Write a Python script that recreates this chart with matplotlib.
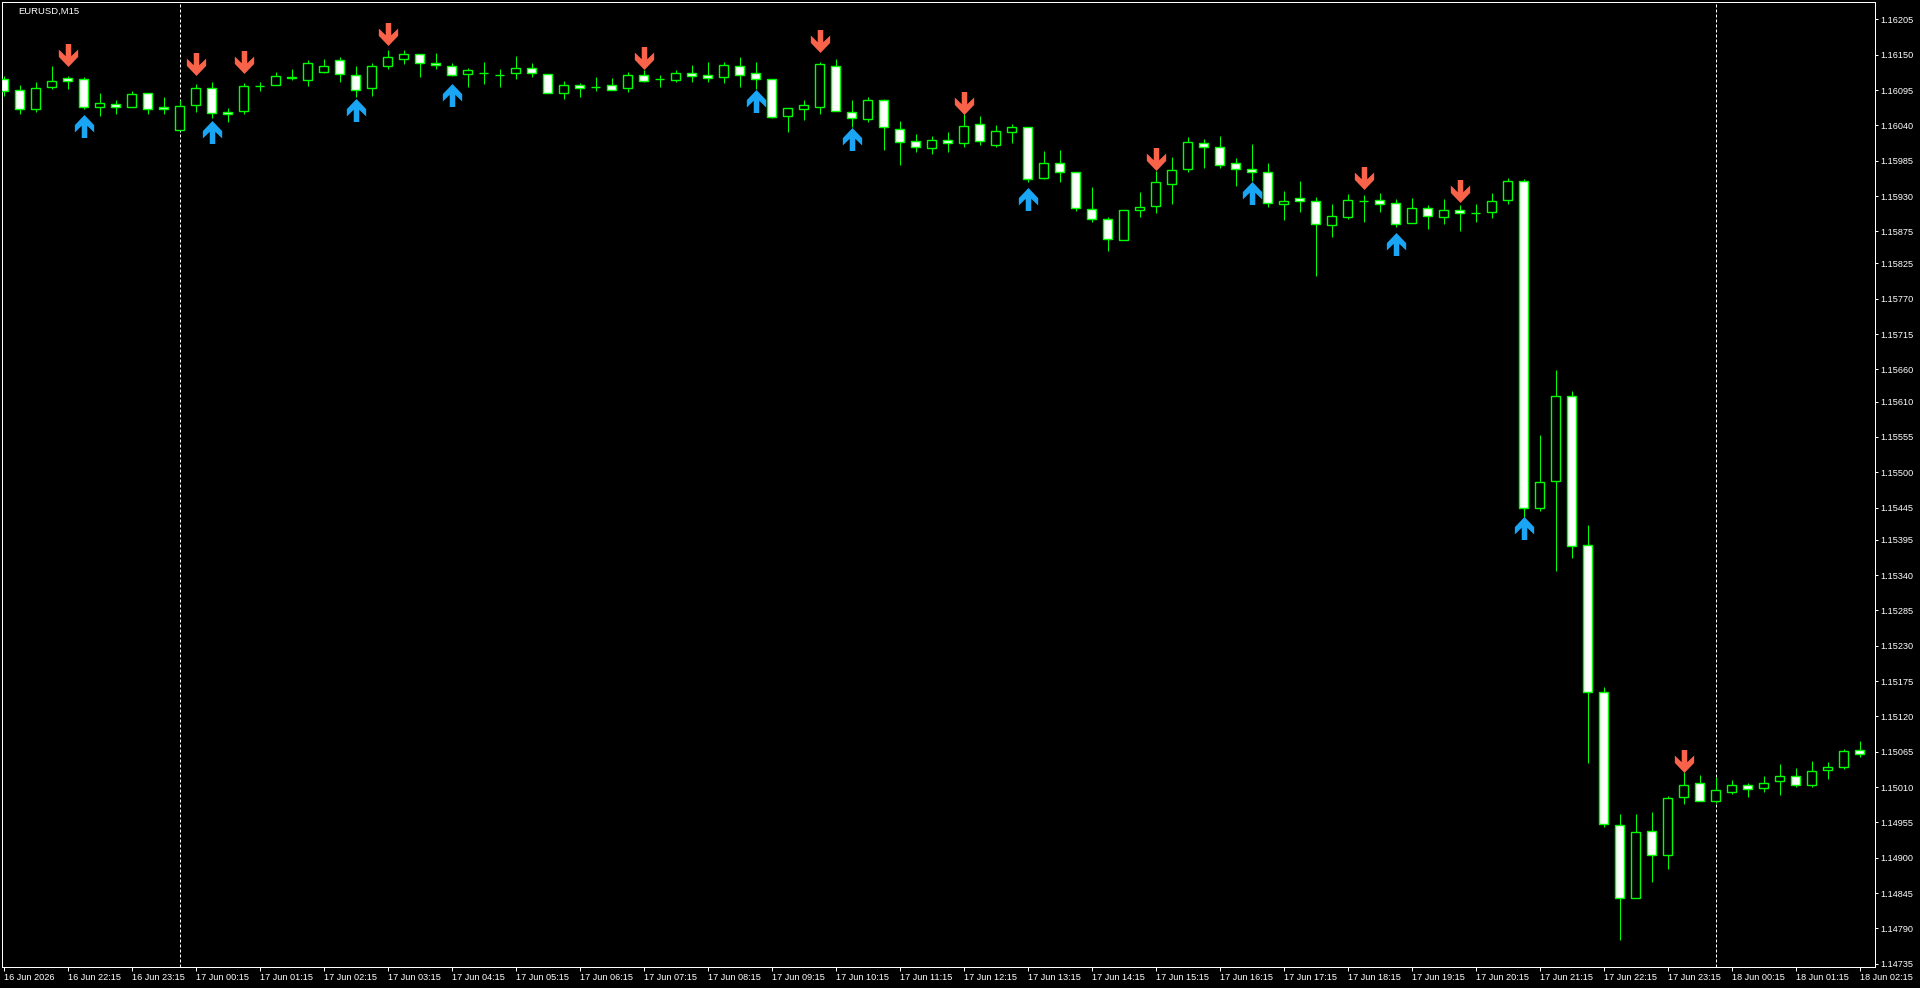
import numpy as np
import pandas as pd
import matplotlib
matplotlib.use("Agg")
import matplotlib.pyplot as plt
from matplotlib.path import Path
from matplotlib.transforms import offset_copy

# EURUSD M15 bars, 16 Jun 21:15 -> 18 Jun 02:15
bar_times = pd.date_range("2026-06-16 21:15", periods=117, freq="15min")

opens = [
    1.16112, 1.16095, 1.16066, 1.16099, 1.16114, 1.16112, 1.16068, 1.16073, 1.16069, 1.16090,
    1.16068, 1.16032, 1.16071, 1.16098, 1.16061, 1.16062, 1.16101, 1.16103, 1.16114, 1.16110,
    1.16123, 1.16142, 1.16118, 1.16098, 1.16132, 1.16143, 1.16151, 1.16137, 1.16132, 1.16120,
    1.16122, 1.16118, 1.16121, 1.16129, 1.16120, 1.16090, 1.16103, 1.16100, 1.16103, 1.16098,
    1.16118, 1.16112, 1.16110, 1.16121, 1.16118, 1.16115, 1.16132, 1.16121, 1.16112, 1.16054,
    1.16066, 1.16069, 1.16132, 1.16061, 1.16050, 1.16080, 1.16034, 1.16015, 1.16004, 1.16017,
    1.16012, 1.16042, 1.16009, 1.16029, 1.16037, 1.15958, 1.15981, 1.15967, 1.15910, 1.15894,
    1.15861, 1.15908, 1.15914, 1.15949, 1.15972, 1.16012, 1.16006, 1.15981, 1.15972, 1.15967,
    1.15917, 1.15927, 1.15922, 1.15885, 1.15897, 1.15922, 1.15924, 1.15919, 1.15888, 1.15911,
    1.15897, 1.15908, 1.15903, 1.15905, 1.15924, 1.15953, 1.15445, 1.15486, 1.15619, 1.15387,
    1.15158, 1.14951, 1.14838, 1.14941, 1.14905, 1.14994, 1.15016, 1.14988, 1.15002, 1.15013,
    1.15008, 1.15019, 1.15027, 1.15013, 1.15036, 1.15042, 1.15067,
]
highs = [
    1.16117, 1.16103, 1.16108, 1.16133, 1.16117, 1.16115, 1.16090, 1.16080, 1.16094, 1.16090,
    1.16084, 1.16080, 1.16105, 1.16108, 1.16067, 1.16106, 1.16107, 1.16123, 1.16127, 1.16142,
    1.16144, 1.16146, 1.16132, 1.16137, 1.16157, 1.16158, 1.16151, 1.16153, 1.16137, 1.16129,
    1.16139, 1.16128, 1.16148, 1.16137, 1.16120, 1.16109, 1.16106, 1.16115, 1.16114, 1.16123,
    1.16126, 1.16118, 1.16126, 1.16134, 1.16139, 1.16139, 1.16147, 1.16139, 1.16112, 1.16067,
    1.16080, 1.16139, 1.16144, 1.16080, 1.16084, 1.16081, 1.16047, 1.16026, 1.16023, 1.16029,
    1.16059, 1.16055, 1.16041, 1.16042, 1.16037, 1.16000, 1.16002, 1.15967, 1.15944, 1.15897,
    1.15908, 1.15936, 1.15969, 1.15991, 1.16022, 1.16019, 1.16023, 1.15989, 1.16011, 1.15981,
    1.15938, 1.15953, 1.15928, 1.15917, 1.15933, 1.15931, 1.15935, 1.15925, 1.15927, 1.15916,
    1.15925, 1.15916, 1.15918, 1.15934, 1.15958, 1.15956, 1.15558, 1.15659, 1.15627, 1.15418,
    1.15166, 1.14968, 1.14968, 1.14971, 1.14996, 1.15033, 1.15029, 1.15026, 1.15021, 1.15017,
    1.15027, 1.15046, 1.15040, 1.15051, 1.15049, 1.15070, 1.15082,
]
lows = [
    1.16086, 1.16058, 1.16061, 1.16096, 1.16097, 1.16066, 1.16054, 1.16058, 1.16068, 1.16058,
    1.16058, 1.16032, 1.16061, 1.16051, 1.16045, 1.16058, 1.16094, 1.16103, 1.16111, 1.16102,
    1.16121, 1.16107, 1.16084, 1.16085, 1.16127, 1.16135, 1.16115, 1.16128, 1.16117, 1.16099,
    1.16105, 1.16100, 1.16112, 1.16115, 1.16090, 1.16081, 1.16084, 1.16094, 1.16095, 1.16092,
    1.16107, 1.16099, 1.16108, 1.16108, 1.16107, 1.16106, 1.16100, 1.16096, 1.16051, 1.16030,
    1.16048, 1.16057, 1.16062, 1.16038, 1.16045, 1.16001, 1.15979, 1.15999, 1.15995, 1.15999,
    1.16006, 1.16009, 1.16006, 1.16012, 1.15952, 1.15956, 1.15952, 1.15906, 1.15889, 1.15845,
    1.15861, 1.15897, 1.15903, 1.15917, 1.15967, 1.15974, 1.15974, 1.15945, 1.15954, 1.15913,
    1.15893, 1.15905, 1.15805, 1.15866, 1.15894, 1.15889, 1.15905, 1.15882, 1.15888, 1.15879,
    1.15886, 1.15875, 1.15890, 1.15896, 1.15918, 1.15431, 1.15439, 1.15347, 1.15366, 1.15048,
    1.14948, 1.14772, 1.14838, 1.14863, 1.14883, 1.14984, 1.14989, 1.14985, 1.15000, 1.14994,
    1.15002, 1.14998, 1.15010, 1.15010, 1.15022, 1.15038, 1.15057,
]
closes = [
    1.16093, 1.16065, 1.16098, 1.16109, 1.16109, 1.16069, 1.16075, 1.16068, 1.16089, 1.16066,
    1.16065, 1.16070, 1.16098, 1.16060, 1.16057, 1.16101, 1.16101, 1.16117, 1.16116, 1.16137,
    1.16132, 1.16120, 1.16095, 1.16132, 1.16146, 1.16151, 1.16137, 1.16134, 1.16118, 1.16126,
    1.16122, 1.16118, 1.16129, 1.16121, 1.16090, 1.16103, 1.16098, 1.16100, 1.16095, 1.16118,
    1.16109, 1.16112, 1.16121, 1.16117, 1.16114, 1.16134, 1.16118, 1.16112, 1.16053, 1.16067,
    1.16072, 1.16135, 1.16062, 1.16051, 1.16080, 1.16038, 1.16014, 1.16006, 1.16017, 1.16012,
    1.16039, 1.16015, 1.16031, 1.16037, 1.15956, 1.15981, 1.15967, 1.15911, 1.15894, 1.15863,
    1.15908, 1.15913, 1.15952, 1.15970, 1.16014, 1.16006, 1.15978, 1.15972, 1.15967, 1.15919,
    1.15922, 1.15922, 1.15886, 1.15899, 1.15924, 1.15922, 1.15917, 1.15886, 1.15911, 1.15899,
    1.15908, 1.15903, 1.15903, 1.15922, 1.15953, 1.15444, 1.15485, 1.15619, 1.15385, 1.15158,
    1.14952, 1.14837, 1.14940, 1.14905, 1.14993, 1.15014, 1.14989, 1.15005, 1.15013, 1.15007,
    1.15016, 1.15027, 1.15014, 1.15035, 1.15041, 1.15066, 1.15061,
]

# signal arrows: bar index and price of the arrow tip
sell_bars = [4, 12, 15, 24, 40, 51, 60, 72, 85, 91, 105]
sell_prices = [1.16132, 1.16117, 1.16120, 1.16164, 1.16127, 1.16153, 1.16057, 1.15969, 1.15940, 1.15920, 1.15033]
buy_bars = [5, 13, 22, 28, 47, 53, 64, 78, 87, 95]
buy_prices = [1.16057, 1.16048, 1.16082, 1.16105, 1.16096, 1.16037, 1.15943, 1.15953, 1.15873, 1.15431]

price_labels = [
    "1.16205", "1.16150", "1.16095", "1.16040", "1.15985", "1.15930", "1.15875",
    "1.15825", "1.15770", "1.15715", "1.15660", "1.15610", "1.15555", "1.15500",
    "1.15445", "1.15395", "1.15340", "1.15285", "1.15230", "1.15175", "1.15120",
    "1.15065", "1.15010", "1.14955", "1.14900", "1.14845", "1.14790", "1.14735",
]
time_labels = [
    "16 Jun 2026", "16 Jun 22:15", "16 Jun 23:15", "17 Jun 00:15", "17 Jun 01:15",
    "17 Jun 02:15", "17 Jun 03:15", "17 Jun 04:15", "17 Jun 05:15", "17 Jun 06:15",
    "17 Jun 07:15", "17 Jun 08:15", "17 Jun 09:15", "17 Jun 10:15", "17 Jun 11:15",
    "17 Jun 12:15", "17 Jun 13:15", "17 Jun 14:15", "17 Jun 15:15", "17 Jun 16:15",
    "17 Jun 17:15", "17 Jun 18:15", "17 Jun 19:15", "17 Jun 20:15", "17 Jun 21:15",
    "17 Jun 22:15", "17 Jun 23:15", "18 Jun 00:15", "18 Jun 01:15", "18 Jun 02:15",
]

GREEN = "#00FF00"
SELL_COL = "#F8634A"
BUY_COL = "#1AA6F5"
PX = 0.72  # one pixel in points at 100 dpi

o = np.array(opens)
h = np.array(highs)
l = np.array(lows)
c = np.array(closes)
x = np.arange(len(o))

plt.rcParams["font.family"] = ["Liberation Sans", "DejaVu Sans"]

fig = plt.figure(figsize=(19.2, 9.88), dpi=100, facecolor="black")
ax = fig.add_axes([2 / 1920, 1 - 967 / 988, 1872.5 / 1920, 965 / 988])
ax.set_facecolor("black")

# wicks then bodies (bull = hollow/black, bear = white)
ax.vlines(x, l, h, color=GREEN, linewidth=PX, zorder=2)
bull = c >= o
ax.bar(x, np.abs(c - o), bottom=np.minimum(o, c), width=0.56,
       color=np.where(bull, "black", "white"), edgecolor=GREEN,
       linewidth=1.4 * PX, zorder=3)

# day separators
for i in x[(bar_times.hour == 0) & (bar_times.minute == 0)]:
    ax.axvline(i, color="white", linewidth=PX, linestyle=(0, (3, 2)), zorder=1)

# arrow markers
down_verts = [(-0.12, 0.5), (0.12, 0.5), (0.12, -0.03), (0.42, 0.26), (0.42, -0.06),
              (0.0, -0.5), (-0.42, -0.06), (-0.42, 0.26), (-0.12, -0.03), (-0.12, 0.5)]
down_arrow = Path(down_verts, closed=True)
up_arrow = Path([(vx, -vy) for vx, vy in down_verts], closed=True)
ah = 23  # arrow height in px
tr_down = offset_copy(ax.transData, fig=fig, x=0, y=ah / 2 * PX, units="points")
tr_up = offset_copy(ax.transData, fig=fig, x=0, y=-ah / 2 * PX, units="points")
ax.plot(sell_bars, sell_prices, linestyle="none", marker=down_arrow, markersize=ah * PX,
        color=SELL_COL, markeredgewidth=0, transform=tr_down, zorder=4)
ax.plot(buy_bars, buy_prices, linestyle="none", marker=up_arrow, markersize=ah * PX,
        color=BUY_COL, markeredgewidth=0, transform=tr_up, zorder=4)

ax.set_xlim(-0.1, 116.93)
ax.set_ylim(1.14730, 1.16232)

ax.set_yticks([float(v) for v in price_labels])
ax.set_yticklabels(price_labels)
ax.yaxis.tick_right()
ax.set_xticks(x[::4])
ax.set_xticklabels(time_labels)
for lab in ax.get_xticklabels():
    lab.set_horizontalalignment("left")

ax.tick_params(axis="y", colors="white", labelcolor="white", labelsize=6.6,
               length=3 * PX, width=PX, pad=2.5 * PX, direction="out")
ax.tick_params(axis="x", colors="white", labelcolor="white", labelsize=6.6,
               length=4 * PX, width=PX, pad=1.5 * PX, direction="out")
for sp in ax.spines.values():
    sp.set_color("white")
    sp.set_linewidth(PX)

fig.text(18 / 1920, 1 - 11 / 988, "EURUSD,M15", color="white", fontsize=6.8,
         ha="left", va="center")

fig.savefig("out.png", dpi=100, facecolor="black")
